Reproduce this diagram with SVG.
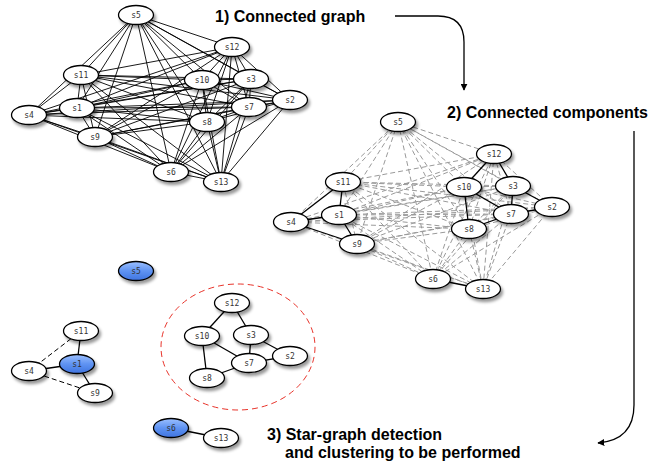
<svg xmlns="http://www.w3.org/2000/svg" width="662" height="463" viewBox="0 0 662 463">
<style>
.e1 line{stroke:#000;stroke-width:0.9}
.e2 line{stroke:#9a9a9a;stroke-width:1;stroke-dasharray:5 3}
.es line{stroke:#000;stroke-width:1.3}
.ed line{stroke:#000;stroke-width:1;stroke-dasharray:5 3}
.node ellipse{fill:#fff;stroke:#000;stroke-width:1.3;filter:url(#sh)}
.node.blue ellipse{fill:url(#bl)}
.node text{font-family:"DejaVu Sans Mono","Liberation Mono",monospace;font-size:8px;fill:#333;text-anchor:middle}
.title{font-family:"Liberation Sans",Arial,sans-serif;font-weight:bold;font-size:16px;fill:#000}
.arrow{fill:none;stroke:#000;stroke-width:1.3}
</style>
<defs>
<filter id="sh" x="-30%" y="-40%" width="160%" height="200%">
<feDropShadow dx="2" dy="3" stdDeviation="1.6" flood-color="#000" flood-opacity="0.4"/>
</filter>
<linearGradient id="bl" x1="0" y1="0" x2="0" y2="1">
<stop offset="0" stop-color="#9cc0ff"/>
<stop offset="0.5" stop-color="#5f93f2"/>
<stop offset="1" stop-color="#3f74e0"/>
</linearGradient>
<marker id="ah" viewBox="0 0 10 10" refX="9" refY="5" markerWidth="7" markerHeight="7" orient="auto" markerUnits="userSpaceOnUse">
<path d="M0,0 L10,5 L0,10 z" fill="#000"/>
</marker>
</defs>
<rect width="662" height="463" fill="#fff"/>

<g id="connectors">
<g class="e1">
<line x1="77" y1="108" x2="290" y2="100"/><line x1="77" y1="108" x2="251" y2="79"/><line x1="77" y1="108" x2="29" y2="115"/><line x1="77" y1="108" x2="136" y2="15"/><line x1="77" y1="108" x2="171" y2="172"/><line x1="77" y1="108" x2="249" y2="107"/><line x1="77" y1="108" x2="207" y2="122"/><line x1="77" y1="108" x2="95" y2="137"/><line x1="77" y1="108" x2="202" y2="80"/><line x1="77" y1="108" x2="81" y2="75"/><line x1="77" y1="108" x2="232" y2="47"/><line x1="77" y1="108" x2="221" y2="182"/>
<line x1="290" y1="100" x2="251" y2="79"/><line x1="290" y1="100" x2="29" y2="115"/><line x1="290" y1="100" x2="136" y2="15"/><line x1="290" y1="100" x2="171" y2="172"/><line x1="290" y1="100" x2="249" y2="107"/><line x1="290" y1="100" x2="207" y2="122"/><line x1="290" y1="100" x2="95" y2="137"/><line x1="290" y1="100" x2="202" y2="80"/><line x1="290" y1="100" x2="81" y2="75"/><line x1="290" y1="100" x2="232" y2="47"/><line x1="290" y1="100" x2="221" y2="182"/>
<line x1="251" y1="79" x2="29" y2="115"/><line x1="251" y1="79" x2="136" y2="15"/><line x1="251" y1="79" x2="171" y2="172"/><line x1="251" y1="79" x2="249" y2="107"/><line x1="251" y1="79" x2="207" y2="122"/><line x1="251" y1="79" x2="95" y2="137"/><line x1="251" y1="79" x2="202" y2="80"/><line x1="251" y1="79" x2="81" y2="75"/><line x1="251" y1="79" x2="232" y2="47"/><line x1="251" y1="79" x2="221" y2="182"/>
<line x1="29" y1="115" x2="136" y2="15"/><line x1="29" y1="115" x2="171" y2="172"/><line x1="29" y1="115" x2="249" y2="107"/><line x1="29" y1="115" x2="207" y2="122"/><line x1="29" y1="115" x2="95" y2="137"/><line x1="29" y1="115" x2="202" y2="80"/><line x1="29" y1="115" x2="81" y2="75"/><line x1="29" y1="115" x2="232" y2="47"/><line x1="29" y1="115" x2="221" y2="182"/>
<line x1="136" y1="15" x2="171" y2="172"/><line x1="136" y1="15" x2="249" y2="107"/><line x1="136" y1="15" x2="207" y2="122"/><line x1="136" y1="15" x2="95" y2="137"/><line x1="136" y1="15" x2="202" y2="80"/><line x1="136" y1="15" x2="81" y2="75"/><line x1="136" y1="15" x2="232" y2="47"/><line x1="136" y1="15" x2="221" y2="182"/>
<line x1="171" y1="172" x2="249" y2="107"/><line x1="171" y1="172" x2="207" y2="122"/><line x1="171" y1="172" x2="95" y2="137"/><line x1="171" y1="172" x2="202" y2="80"/><line x1="171" y1="172" x2="81" y2="75"/><line x1="171" y1="172" x2="232" y2="47"/><line x1="171" y1="172" x2="221" y2="182"/>
<line x1="249" y1="107" x2="207" y2="122"/><line x1="249" y1="107" x2="95" y2="137"/><line x1="249" y1="107" x2="202" y2="80"/><line x1="249" y1="107" x2="81" y2="75"/><line x1="249" y1="107" x2="232" y2="47"/><line x1="249" y1="107" x2="221" y2="182"/>
<line x1="207" y1="122" x2="95" y2="137"/><line x1="207" y1="122" x2="202" y2="80"/><line x1="207" y1="122" x2="81" y2="75"/><line x1="207" y1="122" x2="232" y2="47"/><line x1="207" y1="122" x2="221" y2="182"/>
<line x1="95" y1="137" x2="202" y2="80"/><line x1="95" y1="137" x2="81" y2="75"/><line x1="95" y1="137" x2="232" y2="47"/><line x1="95" y1="137" x2="221" y2="182"/>
<line x1="202" y1="80" x2="81" y2="75"/><line x1="202" y1="80" x2="232" y2="47"/><line x1="202" y1="80" x2="221" y2="182"/>
<line x1="81" y1="75" x2="232" y2="47"/><line x1="81" y1="75" x2="221" y2="182"/>
<line x1="232" y1="47" x2="221" y2="182"/>
</g>

<g class="e2" transform="translate(262,107)">
<line x1="77" y1="108" x2="290" y2="100"/><line x1="77" y1="108" x2="251" y2="79"/><line x1="77" y1="108" x2="136" y2="15"/><line x1="77" y1="108" x2="171" y2="172"/><line x1="77" y1="108" x2="249" y2="107"/><line x1="77" y1="108" x2="207" y2="122"/><line x1="77" y1="108" x2="202" y2="80"/><line x1="77" y1="108" x2="232" y2="47"/><line x1="77" y1="108" x2="221" y2="182"/>
<line x1="290" y1="100" x2="29" y2="115"/><line x1="290" y1="100" x2="136" y2="15"/><line x1="290" y1="100" x2="171" y2="172"/><line x1="290" y1="100" x2="207" y2="122"/><line x1="290" y1="100" x2="95" y2="137"/><line x1="290" y1="100" x2="202" y2="80"/><line x1="290" y1="100" x2="81" y2="75"/><line x1="290" y1="100" x2="232" y2="47"/><line x1="290" y1="100" x2="221" y2="182"/>
<line x1="251" y1="79" x2="29" y2="115"/><line x1="251" y1="79" x2="136" y2="15"/><line x1="251" y1="79" x2="171" y2="172"/><line x1="251" y1="79" x2="207" y2="122"/><line x1="251" y1="79" x2="95" y2="137"/><line x1="251" y1="79" x2="202" y2="80"/><line x1="251" y1="79" x2="81" y2="75"/><line x1="251" y1="79" x2="221" y2="182"/>
<line x1="29" y1="115" x2="136" y2="15"/><line x1="29" y1="115" x2="171" y2="172"/><line x1="29" y1="115" x2="249" y2="107"/><line x1="29" y1="115" x2="207" y2="122"/><line x1="29" y1="115" x2="202" y2="80"/><line x1="29" y1="115" x2="232" y2="47"/><line x1="29" y1="115" x2="221" y2="182"/>
<line x1="136" y1="15" x2="171" y2="172"/><line x1="136" y1="15" x2="249" y2="107"/><line x1="136" y1="15" x2="207" y2="122"/><line x1="136" y1="15" x2="95" y2="137"/><line x1="136" y1="15" x2="202" y2="80"/><line x1="136" y1="15" x2="81" y2="75"/><line x1="136" y1="15" x2="232" y2="47"/><line x1="136" y1="15" x2="221" y2="182"/>
<line x1="171" y1="172" x2="249" y2="107"/><line x1="171" y1="172" x2="207" y2="122"/><line x1="171" y1="172" x2="95" y2="137"/><line x1="171" y1="172" x2="202" y2="80"/><line x1="171" y1="172" x2="81" y2="75"/><line x1="171" y1="172" x2="232" y2="47"/>
<line x1="249" y1="107" x2="95" y2="137"/><line x1="249" y1="107" x2="81" y2="75"/><line x1="249" y1="107" x2="232" y2="47"/><line x1="249" y1="107" x2="221" y2="182"/>
<line x1="207" y1="122" x2="95" y2="137"/><line x1="207" y1="122" x2="81" y2="75"/><line x1="207" y1="122" x2="232" y2="47"/><line x1="207" y1="122" x2="221" y2="182"/>
<line x1="95" y1="137" x2="202" y2="80"/><line x1="95" y1="137" x2="81" y2="75"/><line x1="95" y1="137" x2="232" y2="47"/><line x1="95" y1="137" x2="221" y2="182"/>
<line x1="202" y1="80" x2="81" y2="75"/><line x1="202" y1="80" x2="221" y2="182"/>
<line x1="81" y1="75" x2="232" y2="47"/><line x1="81" y1="75" x2="221" y2="182"/>
<line x1="232" y1="47" x2="221" y2="182"/>
</g>

<g class="es" transform="translate(262,107)">
<line x1="77" y1="108" x2="81" y2="75"/><line x1="77" y1="108" x2="29" y2="115"/><line x1="77" y1="108" x2="95" y2="137"/><line x1="29" y1="115" x2="81" y2="75"/><line x1="29" y1="115" x2="95" y2="137"/>
<line x1="202" y1="80" x2="232" y2="47"/><line x1="251" y1="79" x2="232" y2="47"/><line x1="207" y1="122" x2="202" y2="80"/><line x1="249" y1="107" x2="202" y2="80"/><line x1="251" y1="79" x2="249" y2="107"/><line x1="290" y1="100" x2="251" y2="79"/><line x1="290" y1="100" x2="249" y2="107"/><line x1="249" y1="107" x2="207" y2="122"/><line x1="171" y1="172" x2="221" y2="182"/>
</g>

<g class="es" transform="translate(0,256)">
<line x1="77" y1="108" x2="81" y2="75"/><line x1="77" y1="108" x2="29" y2="115"/><line x1="77" y1="108" x2="95" y2="137"/>
<line x1="202" y1="80" x2="232" y2="47"/><line x1="251" y1="79" x2="232" y2="47"/><line x1="207" y1="122" x2="202" y2="80"/><line x1="249" y1="107" x2="202" y2="80"/><line x1="251" y1="79" x2="249" y2="107"/><line x1="290" y1="100" x2="251" y2="79"/><line x1="290" y1="100" x2="249" y2="107"/><line x1="249" y1="107" x2="207" y2="122"/><line x1="171" y1="172" x2="221" y2="182"/>
</g>
<g class="ed" transform="translate(0,256)">
<line x1="29" y1="115" x2="81" y2="75"/><line x1="29" y1="115" x2="95" y2="137"/>
</g>

<path class="arrow" d="M395,16 H438 Q464,16 464,42 V90" marker-end="url(#ah)"/>
<path class="arrow" d="M634,131 V405 Q634,440 598,443" marker-end="url(#ah)"/>
</g>

<ellipse id="cluster" cx="238" cy="347" rx="77" ry="63" fill="none" stroke="#e8332a" stroke-width="1" stroke-dasharray="6 4"/>

<g id="g1-s5" class="node"><ellipse cx="136" cy="15" rx="17.5" ry="9.5"/><text x="136" y="18">s5</text></g>
<g id="g1-s12" class="node"><ellipse cx="232" cy="47" rx="17.5" ry="9.5"/><text x="232" y="50">s12</text></g>
<g id="g1-s11" class="node"><ellipse cx="81" cy="75" rx="17.5" ry="9.5"/><text x="81" y="78">s11</text></g>
<g id="g1-s10" class="node"><ellipse cx="202" cy="80" rx="17.5" ry="9.5"/><text x="202" y="83">s10</text></g>
<g id="g1-s3" class="node"><ellipse cx="251" cy="79" rx="17.5" ry="9.5"/><text x="251" y="82">s3</text></g>
<g id="g1-s2" class="node"><ellipse cx="290" cy="100" rx="17.5" ry="9.5"/><text x="290" y="103">s2</text></g>
<g id="g1-s7" class="node"><ellipse cx="249" cy="107" rx="17.5" ry="9.5"/><text x="249" y="110">s7</text></g>
<g id="g1-s1" class="node"><ellipse cx="77" cy="108" rx="17.5" ry="9.5"/><text x="77" y="111">s1</text></g>
<g id="g1-s4" class="node"><ellipse cx="29" cy="115" rx="17.5" ry="9.5"/><text x="29" y="118">s4</text></g>
<g id="g1-s8" class="node"><ellipse cx="207" cy="122" rx="17.5" ry="9.5"/><text x="207" y="125">s8</text></g>
<g id="g1-s9" class="node"><ellipse cx="95" cy="137" rx="17.5" ry="9.5"/><text x="95" y="140">s9</text></g>
<g id="g1-s6" class="node"><ellipse cx="171" cy="172" rx="17.5" ry="9.5"/><text x="171" y="175">s6</text></g>
<g id="g1-s13" class="node"><ellipse cx="221" cy="182" rx="17.5" ry="9.5"/><text x="221" y="185">s13</text></g>

<g id="g2-s5" class="node"><ellipse cx="398" cy="122" rx="17.5" ry="9.5"/><text x="398" y="125">s5</text></g>
<g id="g2-s12" class="node"><ellipse cx="494" cy="154" rx="17.5" ry="9.5"/><text x="494" y="157">s12</text></g>
<g id="g2-s11" class="node"><ellipse cx="343" cy="182" rx="17.5" ry="9.5"/><text x="343" y="185">s11</text></g>
<g id="g2-s10" class="node"><ellipse cx="464" cy="187" rx="17.5" ry="9.5"/><text x="464" y="190">s10</text></g>
<g id="g2-s3" class="node"><ellipse cx="513" cy="186" rx="17.5" ry="9.5"/><text x="513" y="189">s3</text></g>
<g id="g2-s2" class="node"><ellipse cx="552" cy="207" rx="17.5" ry="9.5"/><text x="552" y="210">s2</text></g>
<g id="g2-s7" class="node"><ellipse cx="511" cy="214" rx="17.5" ry="9.5"/><text x="511" y="217">s7</text></g>
<g id="g2-s1" class="node"><ellipse cx="339" cy="215" rx="17.5" ry="9.5"/><text x="339" y="218">s1</text></g>
<g id="g2-s4" class="node"><ellipse cx="291" cy="222" rx="17.5" ry="9.5"/><text x="291" y="225">s4</text></g>
<g id="g2-s8" class="node"><ellipse cx="469" cy="229" rx="17.5" ry="9.5"/><text x="469" y="232">s8</text></g>
<g id="g2-s9" class="node"><ellipse cx="357" cy="244" rx="17.5" ry="9.5"/><text x="357" y="247">s9</text></g>
<g id="g2-s6" class="node"><ellipse cx="433" cy="279" rx="17.5" ry="9.5"/><text x="433" y="282">s6</text></g>
<g id="g2-s13" class="node"><ellipse cx="483" cy="289" rx="17.5" ry="9.5"/><text x="483" y="292">s13</text></g>

<g id="g3-s5" class="node blue"><ellipse cx="136" cy="271" rx="17.5" ry="9.5"/><text x="136" y="274">s5</text></g>
<g id="g3-s12" class="node"><ellipse cx="232" cy="303" rx="17.5" ry="9.5"/><text x="232" y="306">s12</text></g>
<g id="g3-s11" class="node"><ellipse cx="81" cy="331" rx="17.5" ry="9.5"/><text x="81" y="334">s11</text></g>
<g id="g3-s10" class="node"><ellipse cx="202" cy="336" rx="17.5" ry="9.5"/><text x="202" y="339">s10</text></g>
<g id="g3-s3" class="node"><ellipse cx="251" cy="335" rx="17.5" ry="9.5"/><text x="251" y="338">s3</text></g>
<g id="g3-s2" class="node"><ellipse cx="290" cy="356" rx="17.5" ry="9.5"/><text x="290" y="359">s2</text></g>
<g id="g3-s7" class="node"><ellipse cx="249" cy="363" rx="17.5" ry="9.5"/><text x="249" y="366">s7</text></g>
<g id="g3-s1" class="node blue"><ellipse cx="77" cy="364" rx="17.5" ry="9.5"/><text x="77" y="367">s1</text></g>
<g id="g3-s4" class="node"><ellipse cx="29" cy="371" rx="17.5" ry="9.5"/><text x="29" y="374">s4</text></g>
<g id="g3-s8" class="node"><ellipse cx="207" cy="378" rx="17.5" ry="9.5"/><text x="207" y="381">s8</text></g>
<g id="g3-s9" class="node"><ellipse cx="95" cy="393" rx="17.5" ry="9.5"/><text x="95" y="396">s9</text></g>
<g id="g3-s6" class="node blue"><ellipse cx="171" cy="428" rx="17.5" ry="9.5"/><text x="171" y="431">s6</text></g>
<g id="g3-s13" class="node"><ellipse cx="221" cy="438" rx="17.5" ry="9.5"/><text x="221" y="441">s13</text></g>

<text class="title" x="215" y="22">1) Connected graph</text>
<text class="title" x="447" y="118">2) Connected components</text>
<text class="title" x="267" y="440">3) Star-graph detection</text>
<text class="title" x="285" y="458">and clustering to be performed</text>
</svg>
